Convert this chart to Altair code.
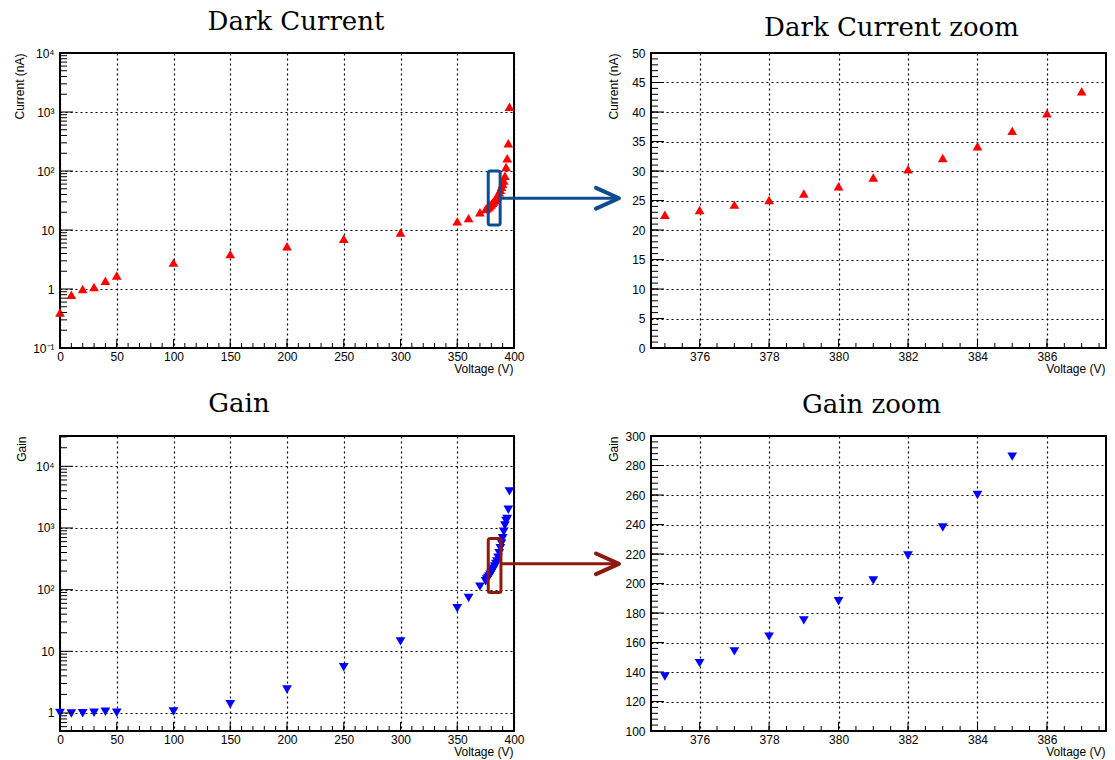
import altair as alt
import pandas as pd

# Measured I-V and gain characteristics of the photodiode
voltage = [0, 10, 20, 30, 40, 50, 100, 150, 200, 250, 300, 350, 360, 370,
           375, 376, 377, 378, 379, 380, 381, 382, 383, 384, 385, 386, 387,
           388, 389, 390, 391, 392, 393, 394, 395, 396]
current_na = [0.40, 0.80, 1.0, 1.08, 1.38, 1.69, 2.8, 3.9, 5.3, 7.1, 9.1, 14.0, 15.9, 20.0,
              22.6, 23.4, 24.3, 25.1, 26.2, 27.4, 28.9, 30.3, 32.2, 34.2, 36.8, 39.8, 43.5,
              48, 54, 61, 69, 83, 117, 165, 295, 1230]
gain = [1.0, 0.98, 0.99, 1.01, 1.05, 1.01, 1.06, 1.38, 2.4, 5.5, 14.5, 50, 73, 112,
        137, 146, 154, 164, 175, 188, 202, 219, 238, 260, 286, 330, 390,
        470, 560, 680, 870, 1100, 1300, 1400, 1980, 3920]

# Axis tick values and labels
full_x_major = [0, 50, 100, 150, 200, 250, 300, 350, 400]
zoom_x_major = [376, 378, 380, 382, 384, 386]
cur_log_major = [0.1, 1, 10, 100, 1000, 10000]
cur_log_labels = ["10\u207b\u00b9", "1", "10", "10\u00b2", "10\u00b3", "10\u2074"]
gain_log_major = [1, 10, 100, 1000, 10000]
gain_log_labels = ["1", "10", "10\u00b2", "10\u00b3", "10\u2074"]
cur_zoom_major = [0, 5, 10, 15, 20, 25, 30, 35, 40, 45, 50]
gain_zoom_major = [100, 120, 140, 160, 180, 200, 220, 240, 260, 280, 300]

# Zoom windows marked on the overview plots
cur_box = {"x": [377.3], "x2": [387.8], "y": [12.2], "y2": [100.0]}
gain_box = {"x": [377.3], "x2": [388.5], "y": [90.0], "y2": [675.0]}
cur_arrow = {"x": [387.8], "x2": [491.0], "tip": [492.5], "y": [34.5]}
gain_arrow = {"x": [388.5], "x2": [491.0], "tip": [492.5], "y": [262.0]}

H = 295
FONT = "Liberation Sans"
CHEVRON = "M-1,-0.45L0,0L-1,0.45"

df = pd.DataFrame({"voltage": voltage, "current": current_na, "gain": gain})


def log_minor(lo, hi):
    vals = [m * 10 ** k for k in range(-2, 6) for m in range(2, 10)]
    return [v for v in vals if lo <= v <= hi]


def steps(lo, hi, step):
    out, v = [], lo
    while v <= hi + 1e-9:
        out.append(round(v, 6))
        v += step
    return out


def label_expr(vals, labels):
    expr = "''"
    for v, lab in reversed(list(zip(vals, labels))):
        expr = f"abs(datum.value - {v}) < {v * 1e-6 + 1e-9} ? '{lab}' : " + expr
    return expr


def panel(field, color, shape, xdom, ydom, ylog, xmaj, xmin, ymaj, ymin, ytitle,
          title, title_dx, title_off, title_x, clip, width, labels=None, box=None,
          arrow=None, acolor=None):
    xs = alt.Scale(domain=xdom, nice=False, zero=False)
    ys = alt.Scale(domain=ydom, nice=False, zero=False, type="log" if ylog else "linear")
    xaxis = alt.Axis(values=xmaj, ticks=False, domain=False, grid=True, gridColor="black",
                     gridDash=[2, 3], gridWidth=1.2, labelFont=FONT, labelFontSize=12,
                     labelColor="black", labelPadding=3, labelFlush=False, labelOverlap=False,
                     title="Voltage (V)", titleFont=FONT, titleFontSize=12,
                     titleFontWeight="normal", titleColor="black", titleX=width - 1, titleY=20,
                     titleAlign="right", titleBaseline="middle", format="d")
    yopts = dict(values=ymaj, ticks=False, domain=False, grid=True, gridColor="black",
                 gridDash=[2, 3], gridWidth=1.2, labelFont=FONT, labelFontSize=12,
                 labelColor="black", labelPadding=6, labelFlush=False, labelOverlap=False,
                 title=ytitle, titleFont=FONT, titleFontSize=12, titleFontWeight="normal",
                 titleColor="black", titleAngle=270, titleX=title_x, titleY=0,
                 titleAlign="right", titleBaseline="middle")
    if labels is not None:
        yopts["labelExpr"] = label_expr(ymaj, labels)
    yaxis = alt.Axis(**yopts)

    def X(f):
        return alt.X(f, scale=xs, axis=xaxis)

    def Y(f):
        return alt.Y(f, scale=ys, axis=yaxis)

    pts = alt.Chart(df).mark_point(shape=shape, filled=True, size=95, color=color,
                                   opacity=1, clip=clip).encode(
        x=X("voltage:Q"), y=Y(f"{field}:Q"))

    def yticks(vals, length):
        return alt.Chart(pd.DataFrame({"v": vals})).mark_rule(color="black", strokeWidth=1).encode(
            y=Y("v:Q"), x=alt.value(0), x2=alt.value(length))

    def xticks(vals, length):
        return alt.Chart(pd.DataFrame({"v": vals})).mark_rule(color="black", strokeWidth=1).encode(
            x=X("v:Q"), y=alt.value(H), y2=alt.value(H - length))

    layers = [pts, yticks(ymaj, 13), yticks(ymin, 7), xticks(xmaj, 9), xticks(xmin, 5)]

    if box is not None:
        layers.append(alt.Chart(pd.DataFrame(box)).mark_rect(
            fillOpacity=0, stroke=acolor, strokeWidth=3, cornerRadius=2).encode(
            x=X("x:Q"), x2="x2:Q", y=Y("y:Q"), y2="y2:Q"))
        adf = pd.DataFrame(arrow)
        layers.append(alt.Chart(adf).mark_rule(color=acolor, strokeWidth=3).encode(
            x=X("x:Q"), x2="x2:Q", y=Y("y:Q")))
        layers.append(alt.Chart(adf).mark_point(
            shape=CHEVRON, size=2116, filled=False, strokeWidth=4, color=acolor, opacity=1,
            strokeCap="round", strokeJoin="round").encode(x=X("tip:Q"), y=Y("y:Q")))

    return alt.layer(*layers).properties(
        width=width, height=H,
        title=alt.TitleParams(title, font="DejaVu Serif", fontSize=26, fontWeight="normal",
                              color="black", anchor="middle", dx=title_dx, offset=title_off,
                              baseline="alphabetic", frame="group"),
    )


full_x = [0, 400]
zoom_x = [374.6, 387.7]

top_left = panel("current", "#ff0000", "triangle-up", full_x, [0.1, 10000], True,
                 full_x_major, steps(0, 400, 10), cur_log_major, log_minor(0.1, 10000),
                 "Current (nA)", "Dark Current", 9, -9, -41, False, 454,
                 labels=cur_log_labels, box=cur_box, arrow=cur_arrow, acolor="#0f4c8f")
top_right = panel("current", "#ff0000", "triangle-up", zoom_x, [0, 50], False,
                  zoom_x_major, steps(375, 387.5, 0.5), cur_zoom_major, steps(0, 50, 1),
                  "Current (nA)", "Dark Current zoom", 13, -15, -38, True, 455)
bottom_left = panel("gain", "#0000ff", "triangle-down", full_x, [0.51, 31000], True,
                    full_x_major, steps(0, 400, 10), gain_log_major, log_minor(0.51, 31000),
                    "Gain", "Gain", -48, -2, -39, False, 454, labels=gain_log_labels,
                    box=gain_box, arrow=gain_arrow, acolor="#8e1a0e")
bottom_right = panel("gain", "#0000ff", "triangle-down", zoom_x, [100, 300], False,
                     zoom_x_major, steps(375, 387.5, 0.5), gain_zoom_major, steps(100, 300, 4),
                     "Gain", "Gain zoom", -7, -9, -38, True, 455)

chart = alt.concat(
    top_left, top_right, bottom_left, bottom_right,
    columns=2, spacing={"row": 88, "column": 137}, bounds="flush",
).properties(
    padding={"left": 12, "top": 8, "right": 5, "bottom": 5}, background="white",
).configure_view(stroke="black", strokeWidth=2)

chart.save("out.html", embed_options={"renderer": "svg", "actions": False})
